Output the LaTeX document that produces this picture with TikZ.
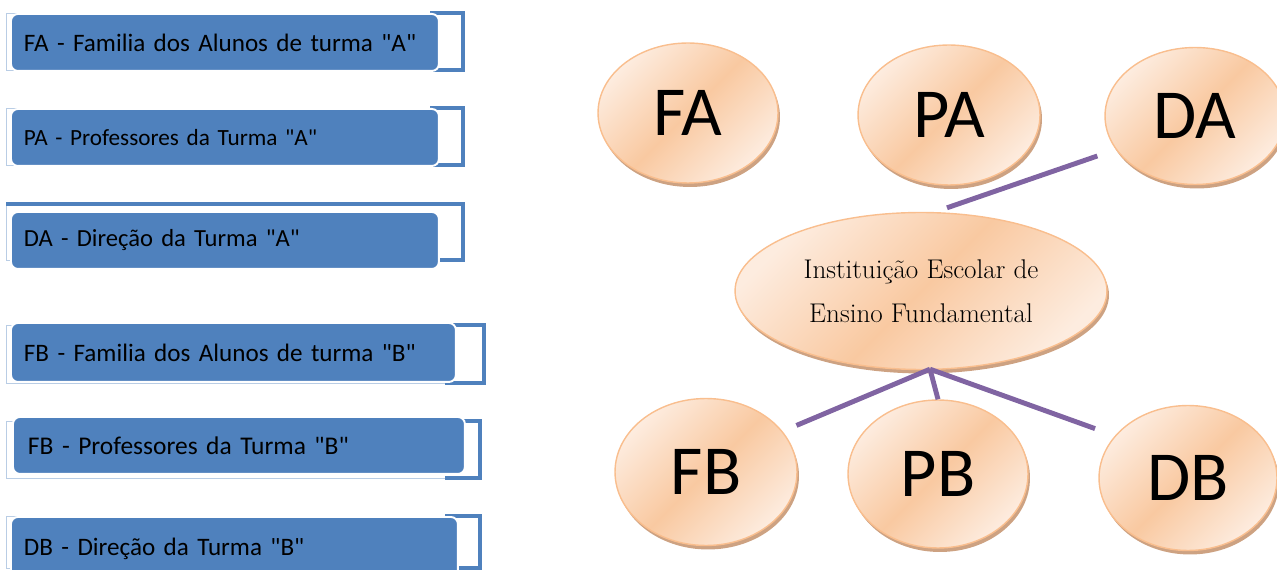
\documentclass[tikz,border=0pt]{standalone}
\usepackage{fontspec}
\newfontfamily\calib{Carlito}
\usepackage{tikz}
\usetikzlibrary{shapes.geometric}
\usetikzlibrary{shadows}
\usetikzlibrary{calc}
\usepackage{xcolor}
\definecolor{boxblue}{HTML}{4F81BD}
\definecolor{framelight}{HTML}{B9CDE5}
\definecolor{peachlight}{HTML}{FDECDF}
\definecolor{peachdark}{HTML}{F9C9A1}
\definecolor{peachedge}{HTML}{F9BE8E}
\definecolor{peachshadow}{HTML}{CDA282}
\definecolor{linkpurple}{HTML}{8064A2}

\tikzset{
  itembox/.style={rectangle, rounded corners=0.14cm, fill=boxblue, draw=white,
    line width=1.1pt, anchor=north west, inner xsep=0.26cm, inner ysep=0pt,
    align=left, font=\calib\fontsize{14.3}{16}\selectfont},
  framethin/.style={draw=framelight, line width=0.5pt},
  bracket/.style={draw=boxblue, line width=1.9pt},
  bubble/.style={ellipse, draw=peachedge, line width=0.8pt, inner sep=0pt,
    top color=peachlight, bottom color=peachlight, middle color=peachdark,
    shading angle=45,
    drop shadow={shadow xshift=0.04cm, shadow yshift=-0.08cm, fill=peachshadow, opacity=1}},
  tag/.style={font=\calib\fontsize{40}{42}\selectfont},
  link/.style={draw=linkpurple, line width=2.8pt},
}

\begin{document}
\begin{tikzpicture}[x=0.02cm, y=-0.02cm]
\useasboundingbox (0,0) rectangle (1277,570);

% brackets behind the list
\draw[framethin] (430,13) -- (6,13) -- (6,70) -- (430,70);
\draw[bracket] (430,13) -| (463,70) -- (430,70);
\draw[framethin] (430,108) -- (6,108) -- (6,165) -- (430,165);
\draw[bracket] (430,108) -| (463,165) -- (430,165);
\draw[framethin] (6,204) -- (6,260) -- (430,260);
\draw[bracket] (6,204) -| (463,260) -- (430,260);
\draw[framethin] (445,325) -- (6,325) -- (6,383) -- (445,383);
\draw[bracket] (445,325) -| (484,383) -- (445,383);
\draw[framethin] (445,421) -- (6,421) -- (6,478) -- (445,478);
\draw[bracket] (445,421) -| (480,478) -- (445,478);
\draw[framethin] (445,516) -- (6,516) -- (6,568) -- (445,568);
\draw[bracket] (445,516) -| (480,568) -- (445,568);

% list
\node[itembox, text width=8.04cm, minimum height=1.14cm] (fatxt) at (10,13) {FA - Familia dos Alunos de turma "A"};
\node[itembox, text width=8.04cm, minimum height=1.14cm, font=\calib\fontsize{13.2}{15}\selectfont] (patxt) at (10,108) {PA - Professores da Turma "A"};
\node[itembox, text width=8.04cm, minimum height=1.14cm, font=\calib\fontsize{14}{16}\selectfont] (datxt) at (10,211) {DA - Direção da Turma "A"};
\node[itembox, text width=8.38cm, minimum height=1.18cm] (fbtxt) at (10,322) {FB - Familia dos Alunos de turma "B"};
\node[itembox, text width=8.44cm, minimum height=1.14cm, inner xsep=0.3cm, font=\calib\fontsize{14.5}{16}\selectfont] (pbtxt) at (12,416) {FB - Professores da Turma "B"};
\node[itembox, text width=8.42cm, minimum height=1.28cm] (dbtxt) at (10,516) {DB - Direção da Turma "B"};

% bubbles
\node[bubble, tag, minimum width=3.6cm, minimum height=2.8cm] (fa) at (688,113) {FA};
\node[bubble, tag, minimum width=3.64cm, minimum height=2.8cm] (pa) at (949,115) {PA};
\node[bubble, tag, minimum width=3.6cm, minimum height=2.74cm] (da) at (1195,116) {DA};
\node[bubble, minimum width=7.44cm, minimum height=3.14cm, align=center,
  font=\fontsize{15.4}{25}\selectfont] (inst) at (921,291) {Instituição Escolar de\\Ensino Fundamental};
\node[bubble, tag, minimum width=3.64cm, minimum height=2.94cm] (fb) at (706,472) {FB};
\node[bubble, tag, minimum width=3.6cm, minimum height=2.96cm] (pb) at (938,474) {PB};
\node[bubble, tag, minimum width=3.56cm, minimum height=2.9cm] (db) at (1188,478) {DB};

\coordinate (top) at ($(inst.north)+(26,-4)$);
\coordinate (hub) at ($(inst.south)+(9,-1)$);
\draw[link, shorten >=0.39cm] (top) -- (da.203);
\draw[link, shorten >=0.3cm] (hub) -- (fb.28);
\draw[link] (hub) -- (pb.north);
\draw[link, shorten >=0.42cm] (hub) -- (db.150);
\end{tikzpicture}
\end{document}
